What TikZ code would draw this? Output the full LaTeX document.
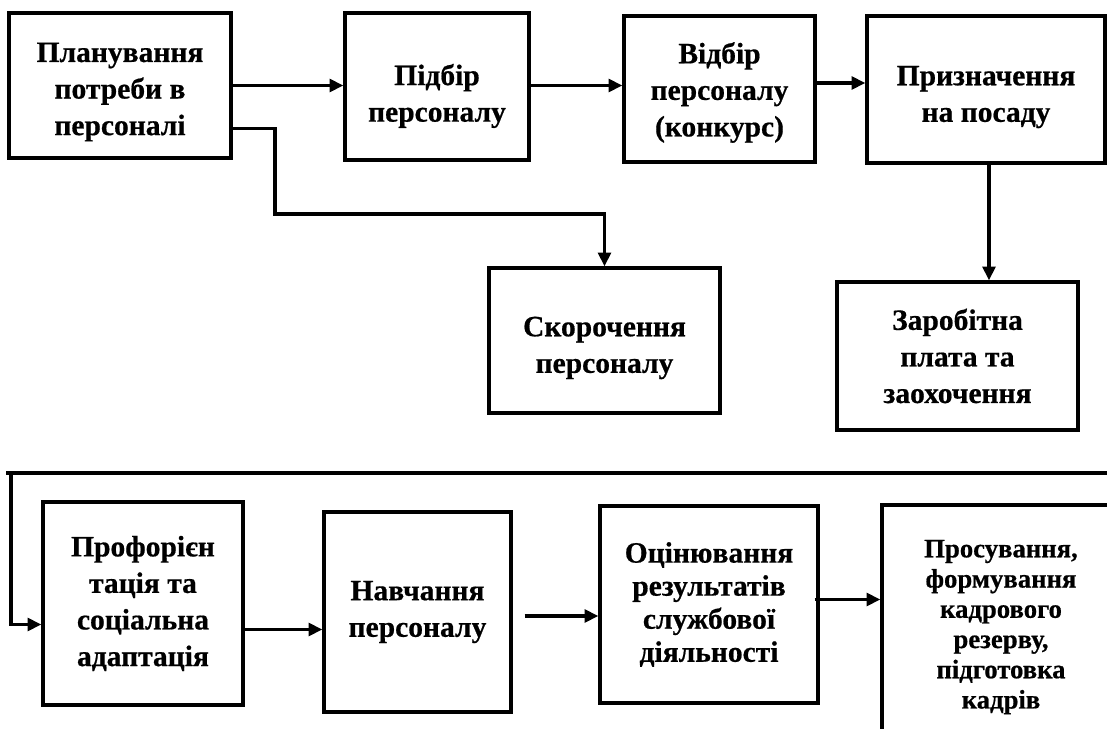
\documentclass[tikz,border=0pt]{standalone}
\usepackage{fontspec}
\setmainfont{Liberation Serif}[BoldFeatures={FakeBold=0.6}]
\usetikzlibrary{positioning, arrows.meta, calc}
\tikzset{
  stagebox/.style={
    rectangle,
    draw,
    line width=2.4pt,
    align=center,
    font=\fontsize{21}{26}\selectfont\bfseries,
    inner sep=2pt
  },
  stagearrow/.style={
    line width=2.2pt,
    -{Triangle[length=0.34cm,width=0.32cm]}
  },
  stageline/.style={
    line width=2.2pt
  }
}

\begin{document}
\begin{tikzpicture}[x=0.025cm, y=-0.025cm]
  \useasboundingbox (0,0) rectangle (1107,729);
  \clip (0,0) rectangle (1107,729);
  % top row
  \node[stagebox, minimum width=5.55cm, minimum height=3.625cm] (plan) at (120,85.5) {\rule{0pt}{23pt}Планування\\потреби в\\персоналі};
  \node[stagebox, minimum width=4.6cm, minimum height=3.675cm] (pidbir) at (437,86.5) {\rule{0pt}{28.5pt}Підбір\\персоналу};
  \node[stagebox, minimum width=4.775cm, minimum height=3.65cm] (vidbir) at (719.5,89) {\rule{0pt}{20pt}Відбір\\персоналу\\(конкурс)};
  \node[stagebox, minimum width=5.95cm, minimum height=3.675cm] (posada) at (986,89.5) {\rule{0pt}{24.5pt}Призначення\\на посаду};
  \node[stagebox, minimum width=5.775cm, minimum height=3.625cm] (skor) at (604.5,340.5) {\rule{0pt}{24.5pt}Скорочення\\персоналу};
  \node[stagebox, minimum width=6.025cm, minimum height=3.7cm] (zarplata) at (957.5,356) {Заробітна\\плата та\\заохочення};
  % bottom row
  \node[stagebox, minimum width=5cm, minimum height=5.075cm] (adapt) at (143,603.5) {Профорієн\\тація та\\соціальна\\адаптація};
  \node[stagebox, minimum width=4.675cm, minimum height=5cm] (navch) at (417.5,612) {Навчання\\персоналу};
  \node[stagebox, minimum width=5.45cm, minimum height=4.925cm, font=\fontsize{21}{23.5}\selectfont\bfseries] (ocin) at (709,604.5) {Оцінювання\\результатів\\службової\\діяльності};
  \node[stagebox, minimum width=5.95cm, minimum height=6.1cm, font=\fontsize{19}{21.5}\selectfont\bfseries] (prosuv) at (1001,627) {Просування,\\формування\\кадрового\\резерву,\\підготовка\\кадрів};

  \coordinate (a2) at ($(pidbir.east)+(0,-1)$);
  \coordinate (a3) at ($(vidbir.east)+(0,-6)$);
  \coordinate (a5) at ($(plan.east)+(0,43)$);
  \coordinate (a6) at ($(posada.south)+(3,0)$);
  \coordinate (turn) at (275,214);
  \coordinate (lineL) at (6,473);
  \coordinate (lineR) at (1107,473);
  \coordinate (drop) at (11,473);
  \coordinate (b7) at ($(adapt.west)+(0,21)$);
  \coordinate (b8) at ($(adapt.east)+(0,26)$);
  \coordinate (b9) at ($(navch.east)+(12,4)$);
  \coordinate (b10) at ($(ocin.east)+(-5,-5)$);

  \draw[stagearrow] (plan.east) -- (plan.east -| pidbir.west);
  \draw[stagearrow] (a2) -- (a2 -| vidbir.west);
  \draw[stagearrow] (a3) -- (a3 -| posada.west);
  \draw[stagearrow] (a5) -| (turn) -| (skor.north);
  \draw[stagearrow] (a6) -- (a6 |- zarplata.north);

  \draw[stageline] (lineL) -- (lineR);
  \draw[stagearrow] (drop) |- (b7);
  \draw[stagearrow] (b8) -- (b8 -| navch.west);
  \draw[stagearrow] (b9) -- (b9 -| ocin.west);
  \draw[stagearrow] (b10) -- (b10 -| prosuv.west);
\end{tikzpicture}
\end{document}
